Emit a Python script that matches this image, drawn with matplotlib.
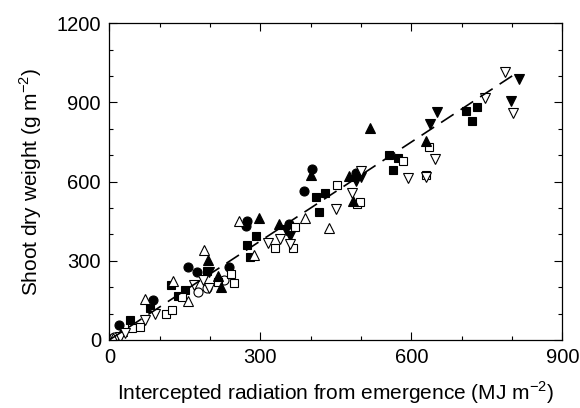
import numpy as np
import matplotlib
matplotlib.use('Agg')
import matplotlib.pyplot as plt
from matplotlib.ticker import MultipleLocator

plt.rcParams['font.family'] = ['Liberation Sans', 'DejaVu Sans']

# intercepted radiation (MJ m-2) and shoot dry weight (g m-2), one pair of lists per symbol
circ_f_x = [20, 87, 157, 174, 238, 273, 271, 356, 387, 402, 490]
circ_f_y = [57, 152, 278, 259, 278, 452, 432, 439, 563, 647, 631]

circ_o_x = [2, 10, 176, 194, 227]
circ_o_y = [4, 12, 180, 196, 227]

sq_f_x = [41, 81, 123, 137, 150, 195, 274, 280, 291, 411, 429, 417, 555, 574, 564, 708, 730, 721]
sq_f_y = [76, 120, 208, 167, 188, 261, 360, 316, 394, 543, 558, 486, 701, 688, 644, 869, 884, 828]

sq_o_x = [45, 60, 113, 124, 144, 215, 241, 248, 329, 364, 369, 452, 492, 498, 584, 630, 636]
sq_o_y = [44, 50, 98, 114, 164, 221, 250, 217, 350, 350, 427, 586, 515, 524, 679, 624, 732]

tri_f_x = [25, 197, 215, 221, 298, 337, 400, 477, 484, 517, 629]
tri_f_y = [35, 303, 242, 202, 461, 439, 625, 621, 528, 802, 754]

tri_o_x = [8, 71, 127, 157, 188, 257, 287, 389, 436]
tri_o_y = [6, 154, 225, 149, 341, 451, 322, 461, 423]

dtri_f_x = [199, 351, 359, 490, 501, 637, 651, 798, 813]
dtri_f_y = [259, 417, 394, 603, 616, 817, 865, 905, 988]

dtri_o_x = [21, 31, 71, 91, 168, 186, 199, 316, 339, 358, 450, 482, 500, 593, 629, 648, 746, 787, 802]
dtri_o_y = [13, 25, 76, 98, 208, 227, 196, 369, 381, 362, 496, 556, 641, 612, 619, 684, 916, 1015, 859]

# fitted line (radiation use efficiency)
slope = 1.25
intercept = 0
line_x = [0, 805]

fig = plt.figure(figsize=(5.8, 4.08), dpi=100)
ax = fig.add_axes([0.1885, 0.1667, 0.781, 0.7763])

kw = dict(linestyle='none', markeredgecolor='k', markeredgewidth=0.8)
ax.plot(circ_f_x, circ_f_y, 'o', color='k', markersize=6.5, **kw)
ax.plot(circ_o_x, circ_o_y, 'o', markerfacecolor='white', markersize=6.5, **kw)
ax.plot(sq_f_x, sq_f_y, 's', color='k', markersize=5.8, **kw)
ax.plot(sq_o_x, sq_o_y, 's', markerfacecolor='white', markersize=5.8, **kw)
ax.plot(tri_f_x, tri_f_y, '^', color='k', markersize=7, **kw)
ax.plot(tri_o_x, tri_o_y, '^', markerfacecolor='white', markersize=7, **kw)
ax.plot(dtri_f_x, dtri_f_y, 'v', color='k', markersize=7, **kw)
ax.plot(dtri_o_x, dtri_o_y, 'v', markerfacecolor='white', markersize=7, **kw)

lx = np.array(line_x)
ax.plot(lx, slope * lx + intercept, color='k', lw=1.2, dashes=(9, 5))

ax.set_xlim(0, 900)
ax.set_ylim(0, 1200)
ax.xaxis.set_major_locator(MultipleLocator(300))
ax.xaxis.set_minor_locator(MultipleLocator(100))
ax.yaxis.set_major_locator(MultipleLocator(300))
ax.yaxis.set_minor_locator(MultipleLocator(100))
ax.tick_params(which='both', direction='in', top=True, right=True, labelsize=14.5, width=0.8)
ax.tick_params(which='major', length=6, pad=6)
ax.tick_params(which='minor', length=3)
for s in ax.spines.values():
    s.set_linewidth(0.9)

ax.set_xlabel('Intercepted radiation from emergence (MJ m$^{\\mathregular{-2}}$)', fontsize=15, labelpad=9)
ax.set_ylabel('Shoot dry weight (g m$^{\\mathregular{-2}}$)', fontsize=15, labelpad=9)

fig.savefig('out.png', dpi=100)
